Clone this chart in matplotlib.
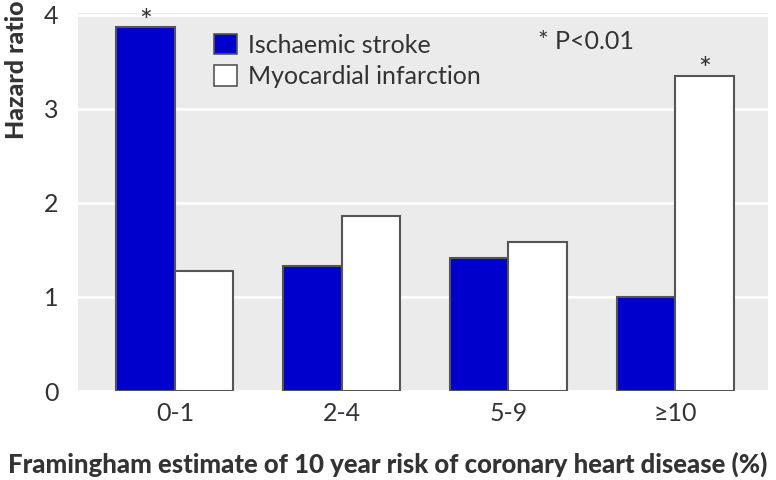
import matplotlib
matplotlib.use("Agg")
import matplotlib.pyplot as plt
import numpy as np
from matplotlib.patches import Patch

# values
categories = ["0-1", "2-4", "5-9", "\u226510"]
stroke = [3.87, 1.33, 1.41, 1.00]
infarction = [1.28, 1.86, 1.58, 3.35]
stroke_sig = [True, False, False, False]
infarction_sig = [False, False, False, True]
yticks = [0, 1, 2, 3, 4]

plt.rcParams['font.family'] = ['Lato', 'DejaVu Sans']

fig = plt.figure(figsize=(7.76, 4.8), dpi=100)
ax = fig.add_axes([0.1005, 0.1854, 0.889, 0.7875])
ax.set_facecolor("#ebebeb")

x = np.arange(len(categories))
w = 0.351
ax.bar(x - w / 2, stroke, w, color="#0000cc", edgecolor="#555555", linewidth=1.5, zorder=3)
ax.bar(x + w / 2, infarction, w, color="white", edgecolor="#555555", linewidth=1.5, zorder=3)

# significance stars
for i in range(len(categories)):
    if stroke_sig[i]:
        ax.text(x[i] - w / 2, stroke[i] - 0.09, "*", ha="center", va="bottom", fontsize=22, color="#333333")
    if infarction_sig[i]:
        ax.text(x[i] + w / 2, infarction[i] - 0.09, "*", ha="center", va="bottom", fontsize=22, color="#333333")

ax.set_xlim(-0.582, 3.557)
ax.set_ylim(0, 4.02)
ax.set_yticks(yticks)
ax.set_xticks(x)
ax.set_xticklabels(categories)
ax.yaxis.grid(True, color="white", linewidth=2, zorder=1)
ax.set_axisbelow(True)
for s in ax.spines.values():
    s.set_visible(False)
ax.tick_params(length=0, labelsize=18, labelcolor="#333333", pad=8)
ax.tick_params(axis="y", pad=14)

fig.text(0.5, 0.032, "Framingham estimate of 10 year risk of coronary heart disease (%)",
         ha="center", va="center", fontsize=18.5, fontweight="black", color="#333333")
fig.text(0.021, 0.998, "Hazard ratio", rotation=90, ha="center", va="top",
         fontsize=18, fontweight="black", color="#333333")

handles = [Patch(facecolor="#0000cc", edgecolor="#555555", linewidth=1.2),
           Patch(facecolor="white", edgecolor="#555555", linewidth=1.2)]
ax.legend(handles, ["Ischaemic stroke", "Myocardial infarction"], loc="upper left",
          bbox_to_anchor=(0.165, 1.005), frameon=False, fontsize=18,
          handlelength=0.9, handleheight=0.9, handletextpad=0.45, labelspacing=0.35,
          labelcolor="#333333")
ax.text(0.667, 0.925, "* P<0.01", transform=ax.transAxes, fontsize=18, color="#333333",
        va="center", ha="left")

fig.savefig("out.png", dpi=100)
